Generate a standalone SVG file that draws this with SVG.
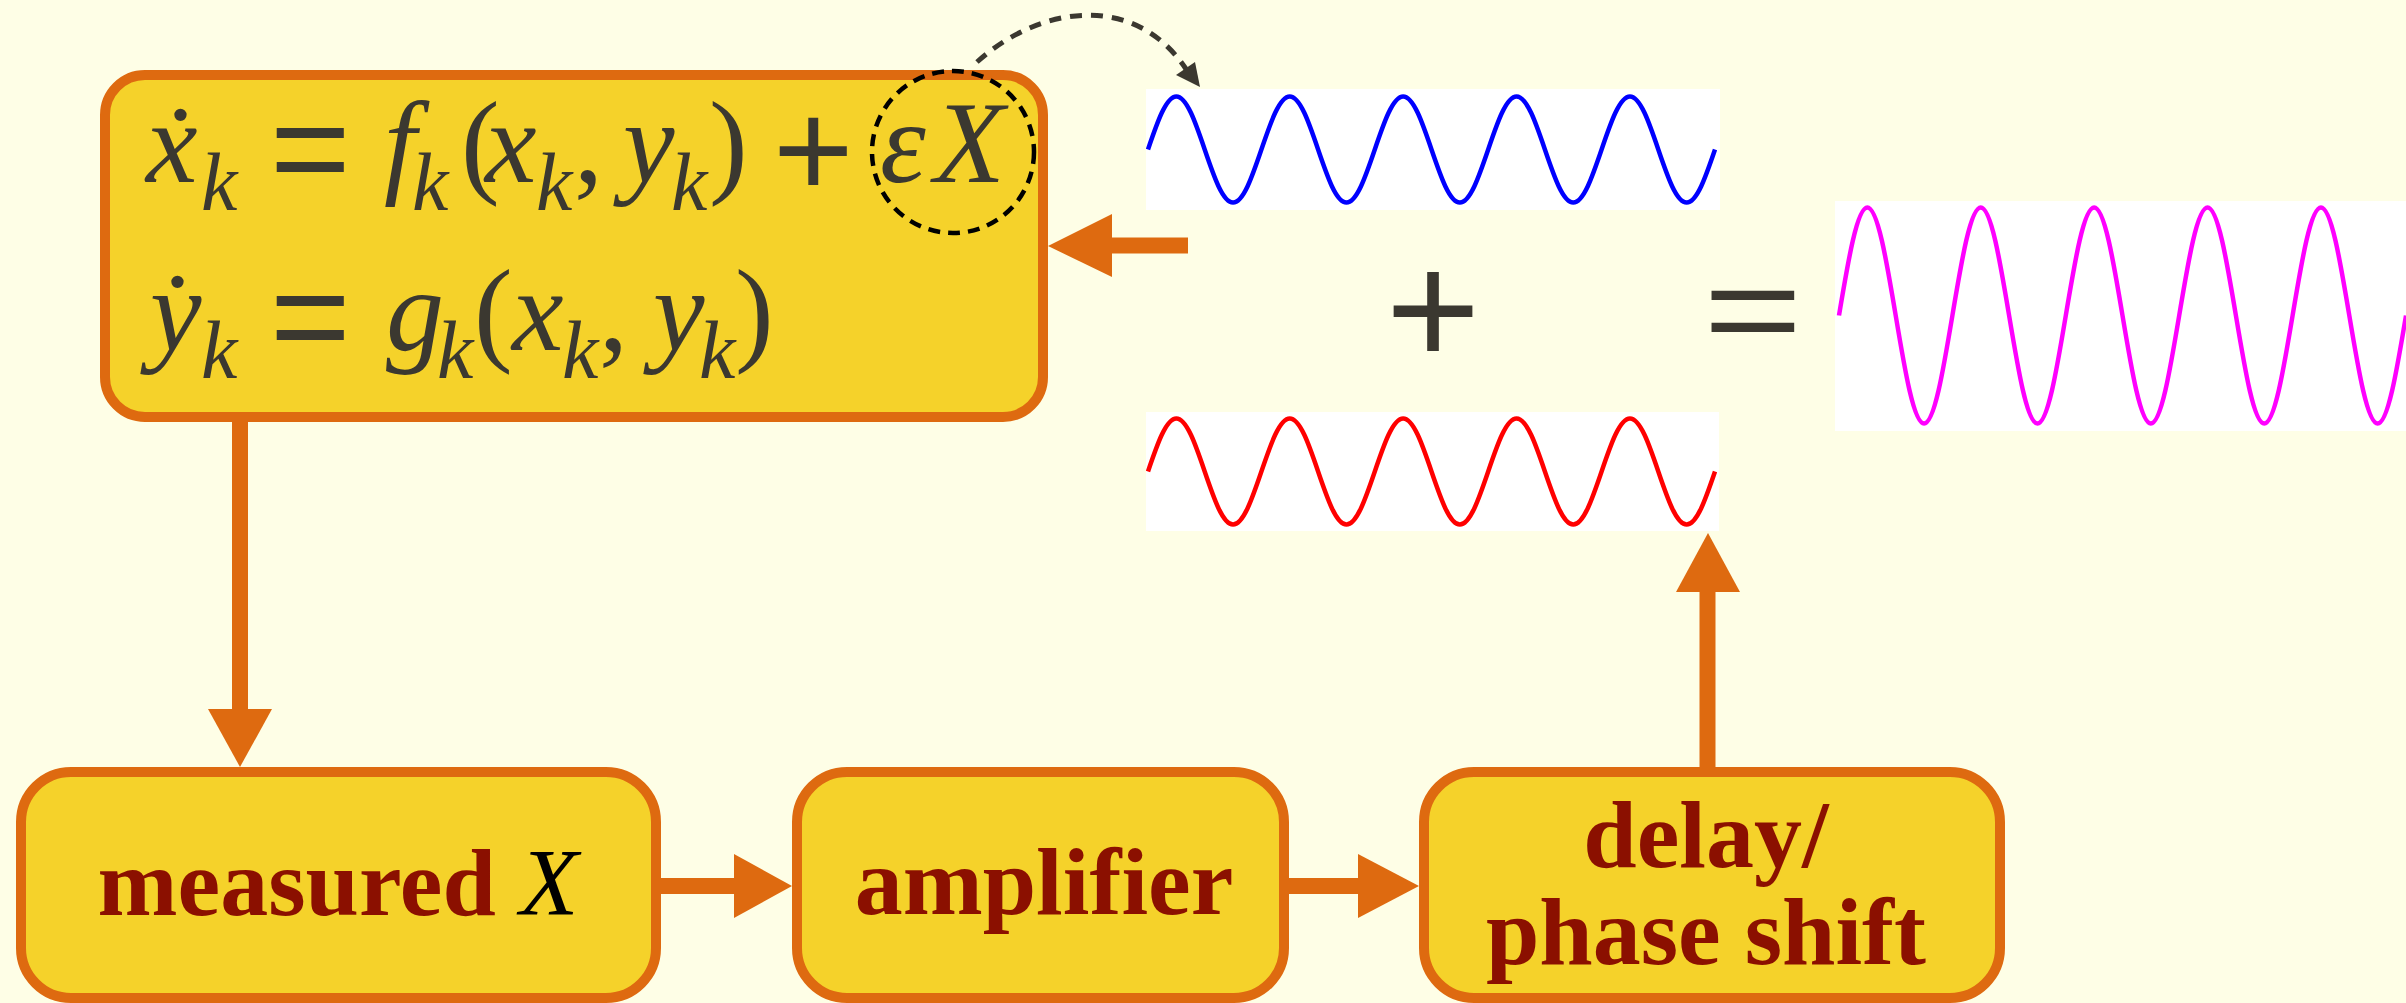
<svg xmlns="http://www.w3.org/2000/svg" width="2406" height="1003" viewBox="0 0 2406 1003">
<style>
.box{fill:#F5D22A;stroke:#DE6A10;stroke-width:10}
.eq{font-family:"Liberation Serif","Times New Roman",serif;font-style:italic;fill:#3B3830}
.up{font-style:normal}
.sym{font-family:"Liberation Sans",Arial,sans-serif;font-style:normal}
.sub{font-size:82px}
.lbl{font-family:"Liberation Serif","Times New Roman",serif;font-weight:bold;font-size:96px;fill:#8B1000;text-anchor:middle}
.head{fill:#DE6A10}
.shaft{stroke:#DE6A10;stroke-width:16;fill:none}
.wave{fill:none;stroke-width:4.5}
.op{font-family:"Liberation Sans",Arial,sans-serif;fill:#3B3830;text-anchor:middle}
</style>
<rect x="0" y="0" width="2406" height="1003" fill="#FEFEE6"/>

<g id="connectors">
  <line class="shaft" x1="240" y1="422" x2="240" y2="712"/>
  <polygon class="head" points="208,709 272,709 240,767"/>
  <line class="shaft" x1="661" y1="886" x2="737" y2="886"/>
  <polygon class="head" points="734,854 734,918 792,886"/>
  <line class="shaft" x1="1289" y1="886" x2="1361" y2="886"/>
  <polygon class="head" points="1358,854 1358,918 1419,886"/>
  <line class="shaft" x1="1707.5" y1="767" x2="1707.5" y2="589"/>
  <polygon class="head" points="1676,592 1740,592 1708,533"/>
  <line class="shaft" x1="1188" y1="245.5" x2="1109" y2="245.5" stroke-width="15"/>
  <polygon class="head" points="1112,214 1112,277 1048,246"/>
  <path d="M 977 62 C 1040 5 1135 -8 1186 69" fill="none" stroke="#3B3830" stroke-width="5" stroke-dasharray="12 9"/>
  <polygon points="1176,75 1195,62 1200,87" fill="#3B3830"/>
</g>

<g id="node-system">
  <rect class="box" x="105" y="75" width="938" height="342" rx="40" ry="40"/>
  <text class="eq" font-size="116px">
    <tspan class="up" x="161" y="186">˙</tspan>
    <tspan x="146" y="182">x</tspan>
    <tspan class="sub" x="201" y="210">k</tspan>
    <tspan class="sym" font-size="138px" x="270" y="195">=</tspan>
    <tspan x="384" y="182">f</tspan>
    <tspan class="sub" x="412" y="210">k</tspan>
    <tspan class="up" x="461" y="182">(</tspan>
    <tspan x="485" y="182">x</tspan>
    <tspan class="sub" x="536" y="210">k</tspan>
    <tspan class="up" x="574" y="182">,</tspan>
    <tspan x="623" y="182">y</tspan>
    <tspan class="sub" x="671" y="210">k</tspan>
    <tspan class="up" x="709" y="182">)</tspan>
    <tspan class="sym" font-size="138px" x="773" y="197">+</tspan>
    <tspan x="880" y="182">ε</tspan>
    <tspan x="934" y="182">X</tspan>
  </text>
  <text class="eq" font-size="116px">
    <tspan class="up" x="158" y="353">˙</tspan>
    <tspan x="150" y="350">y</tspan>
    <tspan class="sub" x="201" y="378">k</tspan>
    <tspan class="sym" font-size="138px" x="270" y="363">=</tspan>
    <tspan x="386" y="350">g</tspan>
    <tspan class="sub" x="437" y="378">k</tspan>
    <tspan class="up" x="474" y="350">(</tspan>
    <tspan x="512" y="350">x</tspan>
    <tspan class="sub" x="562" y="378">k</tspan>
    <tspan class="up" x="599" y="350">,</tspan>
    <tspan x="653" y="350">y</tspan>
    <tspan class="sub" x="699" y="378">k</tspan>
    <tspan class="up" x="735" y="350">)</tspan>
  </text>
  <circle cx="953" cy="152" r="81" fill="none" stroke="#000" stroke-width="4.5" stroke-dasharray="12 8"/>
</g>

<g id="node-measured">
  <rect class="box" x="21" y="772" width="635" height="226" rx="50" ry="50"/>
  <text class="lbl" x="338" y="915">measured <tspan font-style="italic" font-weight="normal" fill="#000">X</tspan></text>
</g>

<g id="node-amplifier">
  <rect class="box" x="797" y="772" width="487" height="226" rx="50" ry="50"/>
  <text class="lbl" x="1044" y="914">amplifier</text>
</g>

<g id="node-delay">
  <rect class="box" x="1424" y="772" width="576" height="226" rx="50" ry="50"/>
  <text class="lbl" x="1706" y="867">delay/</text>
  <text class="lbl" x="1706" y="964">phase shift</text>
</g>

<g id="signal-control">
  <rect x="1146" y="89" width="574" height="121" fill="#FFFFFF"/>
  <path class="wave" stroke="#0000FF" d="M 1148 149.5 c 9.245 -27.15 18.09 -53 28.35 -53 s 19.105 25.85 28.35 53 s 18.09 53 28.35 53 s 19.105 -25.85 28.35 -53 s 18.09 -53 28.35 -53 s 19.105 25.85 28.35 53 s 18.09 53 28.35 53 s 19.105 -25.85 28.35 -53 s 18.09 -53 28.35 -53 s 19.105 25.85 28.35 53 s 18.09 53 28.35 53 s 19.105 -25.85 28.35 -53 s 18.09 -53 28.35 -53 s 19.105 25.85 28.35 53 s 18.09 53 28.35 53 s 19.105 -25.85 28.35 -53 s 18.09 -53 28.35 -53 s 19.105 25.85 28.35 53 s 18.09 53 28.35 53 s 19.105 -25.85 28.35 -53"/>
</g>

<g id="signal-feedback">
  <rect x="1146" y="412" width="573" height="119" fill="#FFFFFF"/>
  <path class="wave" stroke="#FF0000" d="M 1148 471.5 c 9.245 -27.15 18.09 -53 28.35 -53 s 19.105 25.85 28.35 53 s 18.09 53 28.35 53 s 19.105 -25.85 28.35 -53 s 18.09 -53 28.35 -53 s 19.105 25.85 28.35 53 s 18.09 53 28.35 53 s 19.105 -25.85 28.35 -53 s 18.09 -53 28.35 -53 s 19.105 25.85 28.35 53 s 18.09 53 28.35 53 s 19.105 -25.85 28.35 -53 s 18.09 -53 28.35 -53 s 19.105 25.85 28.35 53 s 18.09 53 28.35 53 s 19.105 -25.85 28.35 -53 s 18.09 -53 28.35 -53 s 19.105 25.85 28.35 53 s 18.09 53 28.35 53 s 19.105 -25.85 28.35 -53"/>
</g>

<g id="signal-sum">
  <rect x="1835" y="201" width="571" height="230" fill="#FFFFFF"/>
  <path class="wave" stroke="#FF00FF" d="M 1839 315.5 c 9.245 -55.33 18.09 -108 28.35 -108 s 19.105 52.67 28.35 108 s 18.09 108 28.35 108 s 19.105 -52.67 28.35 -108 s 18.09 -108 28.35 -108 s 19.105 52.67 28.35 108 s 18.09 108 28.35 108 s 19.105 -52.67 28.35 -108 s 18.09 -108 28.35 -108 s 19.105 52.67 28.35 108 s 18.09 108 28.35 108 s 19.105 -52.67 28.35 -108 s 18.09 -108 28.35 -108 s 19.105 52.67 28.35 108 s 18.09 108 28.35 108 s 19.105 -52.67 28.35 -108 s 18.09 -108 28.35 -108 s 19.105 52.67 28.35 108 s 18.09 108 28.35 108 s 19.105 -52.67 28.35 -108"/>
</g>

<g id="operators">
  <text class="op" font-size="162px" x="1433" y="365">+</text>
  <text class="op" font-size="170px" x="0" y="55" transform="translate(1753 313) scale(1 0.75)">=</text>
</g>
</svg>
